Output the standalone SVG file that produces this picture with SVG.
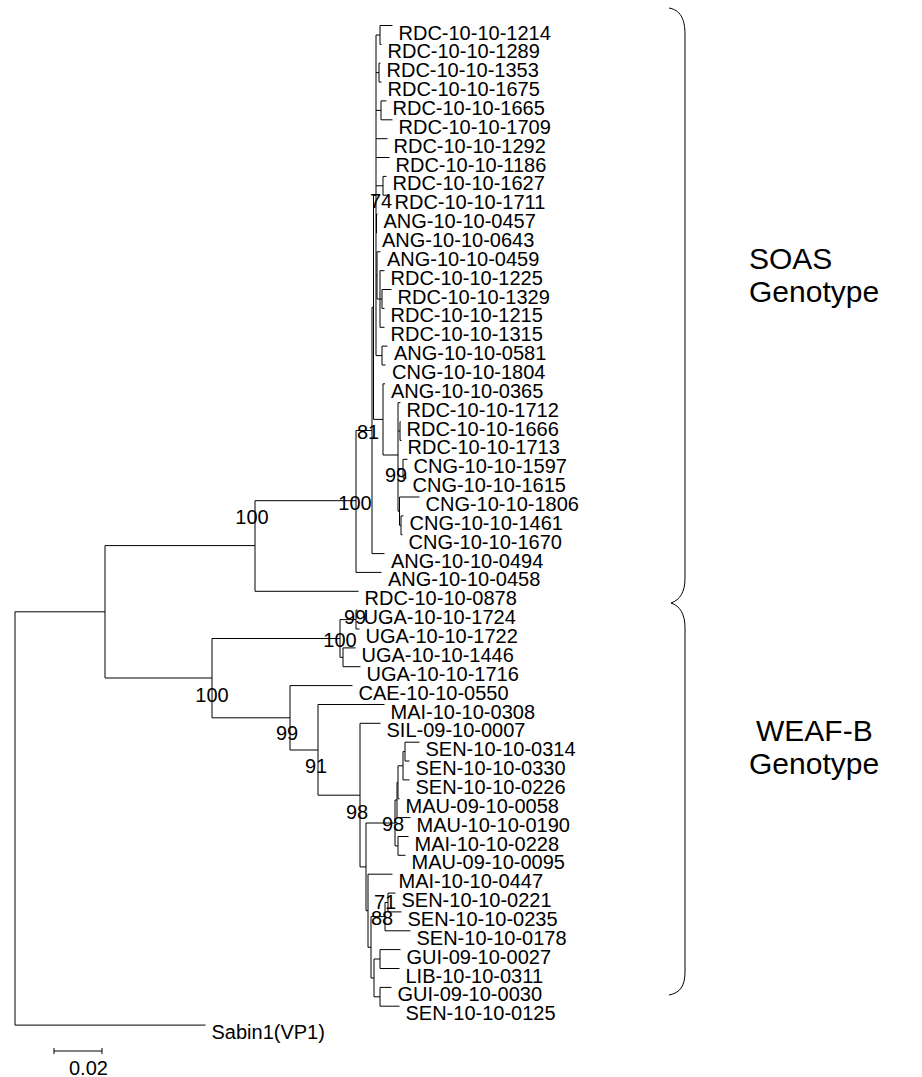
<svg xmlns="http://www.w3.org/2000/svg" width="922" height="1077" viewBox="0 0 922 1077">
<style>
.t{font-family:"Liberation Sans",Arial,sans-serif;font-size:20px;fill:#000}
.b{font-family:"Liberation Sans",Arial,sans-serif;font-size:20px;fill:#000;text-anchor:middle}
.g{font-family:"Liberation Sans",Arial,sans-serif;font-size:30px;fill:#000}
.e{fill:none;stroke:#000;stroke-width:1}
</style>
<rect width="922" height="1077" fill="#fff"/>
<g id="connectors" class="e">
<path d="M15,611.8V1025.1M15,611.8H105M15,1025.1H205.5"/>
<path d="M105,545.6V678M105,545.6H255M105,678H212"/>
<path d="M255,500.7V591.3M255,500.7H356M255,591.3H358.5"/>
<path d="M356,430.5V572.4M356,430.5H372M356,572.4H381.5"/>
<path d="M372,307.4V553.6M372,307.4H373.5M372,553.6H384.5"/>
<path d="M373.5,195.3V419.4M373.5,195.3H376M373.5,419.4H383"/>
<path d="M376,35V355.6M376,35H380M376,72.6H379M376,110.4H381M376,138.7H387.5M376,157.5H389.5M376,185.8H383M376,223.5H376.5M376,275.4H377M376,355.6H382"/>
<path d="M380,25.5V44.4M380,25.5H392.5M380,44.4H381.5"/>
<path d="M379,63.2V82.1M379,63.2H380.5M379,82.1H381.5"/>
<path d="M381,100.9V119.8M381,100.9H386.5M381,119.8H392.5"/>
<path d="M383,176.4V195.2M383,176.4H386.5M383,195.2H388.5"/>
<path d="M376.5,214.1V233M376.5,214.1H377.5M376.5,233H377"/>
<path d="M377,251.8V299M377,251.8H380.5M377,299H380"/>
<path d="M380,270.7V327.3M380,270.7H384.5M380,299H382M380,327.3H384.5"/>
<path d="M382,289.5V308.4M382,289.5H391.5M382,308.4H384.5"/>
<path d="M382,346.1V365M382,346.1H387.5M382,365H385.5"/>
<path d="M383,383.8V455M383,383.8H385M383,455H398"/>
<path d="M398,402.7V511.2M398,402.7H400.5M398,431H400M398,468.7H403M398,511.2H399.5"/>
<path d="M400,421.6V440.4M400,421.6H400.5M400,440.4H401.5"/>
<path d="M403,459.3V478.1M403,459.3H407.5M403,478.1H406.5"/>
<path d="M399.5,497V525.3M399.5,497H419.5M399.5,525.3H401"/>
<path d="M401,515.9V534.7M401,515.9H403.5M401,534.7H402.5"/>
<path d="M212,638.5V717.8M212,638.5H340M212,717.8H290"/>
<path d="M340,619.6V657.3M340,619.6H356M340,657.3H343"/>
<path d="M356,610.2V629M356,610.2H357.5M356,629H359.5"/>
<path d="M343,647.9V666.7M343,647.9H355.5M343,666.7H360.5"/>
<path d="M290,685.6V750M290,685.6H352.5M290,750H318"/>
<path d="M318,704.5V795.2M318,704.5H384.5M318,795.2H360"/>
<path d="M360,723.3V866.9M360,723.3H380.5M360,866.9H366"/>
<path d="M366,823V910.7M366,823H395M366,910.7H368"/>
<path d="M395,800V845.9M395,800H397M395,845.9H398"/>
<path d="M397,782.3V817.6M397,782.3H398M397,817.6H410.5"/>
<path d="M398,765.8V798.8M398,765.8H403M398,798.8H399.5"/>
<path d="M403,751.6V779.9M403,751.6H405M403,779.9H409.5"/>
<path d="M405,742.2V761M405,742.2H419.5M405,761H409.5"/>
<path d="M398,836.5V855.3M398,836.5H408.5M398,855.3H405.5"/>
<path d="M368,874.2V947.3M368,874.2H392.5M368,947.3H371"/>
<path d="M371,916.6V978M371,916.6H385M371,978H374"/>
<path d="M385,902.5V930.8M385,902.5H388M385,930.8H410.5"/>
<path d="M388,893.1V911.9M388,893.1H395.5M388,911.9H401.5"/>
<path d="M374,959V996.8M374,959H380M374,996.8H380"/>
<path d="M380,949.6V968.5M380,949.6H400.5M380,968.5H399.5"/>
<path d="M380,987.4V1006.2M380,987.4H391.5M380,1006.2H399.5"/>
</g>
<g id="leaves">
<g id="n0"><text class="t" x="398.5" y="39.5">RDC-10-10-1214</text></g>
<g id="n1"><text class="t" x="387.5" y="58.4">RDC-10-10-1289</text></g>
<g id="n2"><text class="t" x="386.5" y="77.2">RDC-10-10-1353</text></g>
<g id="n3"><text class="t" x="387.5" y="96.1">RDC-10-10-1675</text></g>
<g id="n4"><text class="t" x="392.5" y="114.9">RDC-10-10-1665</text></g>
<g id="n5"><text class="t" x="398.5" y="133.8">RDC-10-10-1709</text></g>
<g id="n6"><text class="t" x="393.5" y="152.7">RDC-10-10-1292</text></g>
<g id="n7"><text class="t" x="395.5" y="171.5">RDC-10-10-1186</text></g>
<g id="n8"><text class="t" x="392.5" y="190.4">RDC-10-10-1627</text></g>
<g id="n9"><text class="t" x="394.5" y="209.2">RDC-10-10-1711</text></g>
<g id="n10"><text class="t" x="383.5" y="228.1">ANG-10-10-0457</text></g>
<g id="n11"><text class="t" x="382" y="247">ANG-10-10-0643</text></g>
<g id="n12"><text class="t" x="387" y="265.8">ANG-10-10-0459</text></g>
<g id="n13"><text class="t" x="390.5" y="284.7">RDC-10-10-1225</text></g>
<g id="n14"><text class="t" x="397.5" y="303.5">RDC-10-10-1329</text></g>
<g id="n15"><text class="t" x="390.5" y="322.4">RDC-10-10-1215</text></g>
<g id="n16"><text class="t" x="390.5" y="341.3">RDC-10-10-1315</text></g>
<g id="n17"><text class="t" x="394" y="360.1">ANG-10-10-0581</text></g>
<g id="n18"><text class="t" x="392" y="379">CNG-10-10-1804</text></g>
<g id="n19"><text class="t" x="391" y="397.8">ANG-10-10-0365</text></g>
<g id="n20"><text class="t" x="406.5" y="416.7">RDC-10-10-1712</text></g>
<g id="n21"><text class="t" x="406.5" y="435.6">RDC-10-10-1666</text></g>
<g id="n22"><text class="t" x="407.5" y="454.4">RDC-10-10-1713</text></g>
<g id="n23"><text class="t" x="413.5" y="473.3">CNG-10-10-1597</text></g>
<g id="n24"><text class="t" x="412.5" y="492.1">CNG-10-10-1615</text></g>
<g id="n25"><text class="t" x="425.5" y="511">CNG-10-10-1806</text></g>
<g id="n26"><text class="t" x="409.5" y="529.9">CNG-10-10-1461</text></g>
<g id="n27"><text class="t" x="408.5" y="548.7">CNG-10-10-1670</text></g>
<g id="n28"><text class="t" x="391" y="567.6">ANG-10-10-0494</text></g>
<g id="n29"><text class="t" x="388" y="586.4">ANG-10-10-0458</text></g>
<g id="n30"><text class="t" x="364.5" y="605.3">RDC-10-10-0878</text></g>
<g id="n31"><text class="t" x="363.5" y="624.2">UGA-10-10-1724</text></g>
<g id="n32"><text class="t" x="365.5" y="643">UGA-10-10-1722</text></g>
<g id="n33"><text class="t" x="361.5" y="661.9">UGA-10-10-1446</text></g>
<g id="n34"><text class="t" x="366.5" y="680.7">UGA-10-10-1716</text></g>
<g id="n35"><text class="t" x="358.5" y="699.6">CAE-10-10-0550</text></g>
<g id="n36"><text class="t" x="390.5" y="718.5">MAI-10-10-0308</text></g>
<g id="n37"><text class="t" x="386.5" y="737.3">SIL-09-10-0007</text></g>
<g id="n38"><text class="t" x="425.5" y="756.2">SEN-10-10-0314</text></g>
<g id="n39"><text class="t" x="415.5" y="775">SEN-10-10-0330</text></g>
<g id="n40"><text class="t" x="415.5" y="793.9">SEN-10-10-0226</text></g>
<g id="n41"><text class="t" x="405.5" y="812.8">MAU-09-10-0058</text></g>
<g id="n42"><text class="t" x="416.5" y="831.6">MAU-10-10-0190</text></g>
<g id="n43"><text class="t" x="414.5" y="850.5">MAI-10-10-0228</text></g>
<g id="n44"><text class="t" x="411.5" y="869.3">MAU-09-10-0095</text></g>
<g id="n45"><text class="t" x="398.5" y="888.2">MAI-10-10-0447</text></g>
<g id="n46"><text class="t" x="401.5" y="907.1">SEN-10-10-0221</text></g>
<g id="n47"><text class="t" x="407.5" y="925.9">SEN-10-10-0235</text></g>
<g id="n48"><text class="t" x="416.5" y="944.8">SEN-10-10-0178</text></g>
<g id="n49"><text class="t" x="406.5" y="963.6">GUI-09-10-0027</text></g>
<g id="n50"><text class="t" x="405.5" y="982.5">LIB-10-10-0311</text></g>
<g id="n51"><text class="t" x="397.5" y="1001.4">GUI-09-10-0030</text></g>
<g id="n52"><text class="t" x="405.5" y="1020.2">SEN-10-10-0125</text></g>
<g id="n53"><text class="t" x="211.5" y="1039">Sabin1(VP1)</text></g>
</g>
<g id="bootstrap">
<text class="b" x="381" y="208">74</text>
<text class="b" x="368" y="439">81</text>
<text class="b" x="396" y="482">99</text>
<text class="b" x="355" y="510">100</text>
<text class="b" x="252" y="524">100</text>
<text class="b" x="355" y="624">99</text>
<text class="b" x="340" y="647">100</text>
<text class="b" x="212" y="702">100</text>
<text class="b" x="287" y="740">99</text>
<text class="b" x="316" y="773">91</text>
<text class="b" x="357" y="819">98</text>
<text class="b" x="393" y="831">98</text>
<text class="b" x="385" y="909">71</text>
<text class="b" x="382" y="925">88</text>
</g>
<g id="scale">
<path class="e" d="M54,1051H102M54,1048V1054M102,1048V1054"/>
<text class="t" x="69" y="1075">0.02</text>
</g>
<g id="brace-soas">
<path class="e" d="M669,8C680,10 685,18 685,35L685,578C685,592 680,600 671,603"/>
<text class="g" x="749" y="269">SOAS</text>
<text class="g" x="749" y="302">Genotype</text>
</g>
<g id="brace-weaf">
<path class="e" d="M671,603C680,606 685,614 685,628L685,972C685,986 680,993 669,995"/>
<text class="g" x="756" y="741">WEAF-B</text>
<text class="g" x="749" y="774">Genotype</text>
</g>
</svg>
